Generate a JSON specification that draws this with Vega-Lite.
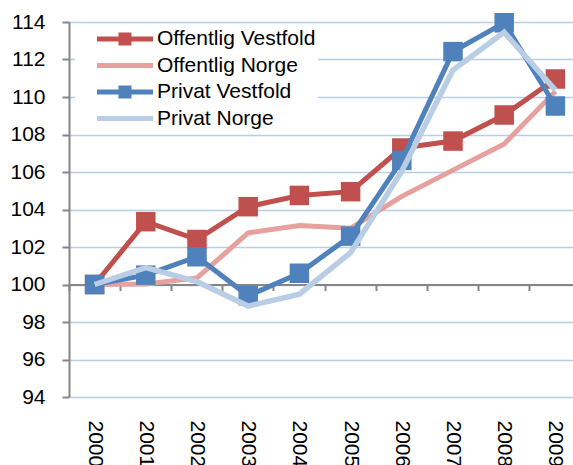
{
  "$schema": "https://vega.github.io/schema/vega-lite/v6.json",
  "width": 504,
  "height": 375,
  "autosize": "none",
  "padding": {"left": 69, "top": 22, "right": 0, "bottom": 68},
  "background": "white",
  "config": {"view": {"stroke": null}, "font": "Liberation Sans"},
  "data": {"values": [
    {"year": "2000", "series": "Offentlig Vestfold", "value": 100},
    {"year": "2001", "series": "Offentlig Vestfold", "value": 103.35},
    {"year": "2002", "series": "Offentlig Vestfold", "value": 102.4},
    {"year": "2003", "series": "Offentlig Vestfold", "value": 104.15},
    {"year": "2004", "series": "Offentlig Vestfold", "value": 104.75},
    {"year": "2005", "series": "Offentlig Vestfold", "value": 104.95},
    {"year": "2006", "series": "Offentlig Vestfold", "value": 107.28},
    {"year": "2007", "series": "Offentlig Vestfold", "value": 107.65},
    {"year": "2008", "series": "Offentlig Vestfold", "value": 109.04},
    {"year": "2009", "series": "Offentlig Vestfold", "value": 110.96},
    {"year": "2000", "series": "Offentlig Norge", "value": 100},
    {"year": "2001", "series": "Offentlig Norge", "value": 100.03},
    {"year": "2002", "series": "Offentlig Norge", "value": 100.35},
    {"year": "2003", "series": "Offentlig Norge", "value": 102.75},
    {"year": "2004", "series": "Offentlig Norge", "value": 103.15},
    {"year": "2005", "series": "Offentlig Norge", "value": 103.0},
    {"year": "2006", "series": "Offentlig Norge", "value": 104.7},
    {"year": "2007", "series": "Offentlig Norge", "value": 106.1},
    {"year": "2008", "series": "Offentlig Norge", "value": 107.5},
    {"year": "2009", "series": "Offentlig Norge", "value": 110.3},
    {"year": "2000", "series": "Privat Vestfold", "value": 100},
    {"year": "2001", "series": "Privat Vestfold", "value": 100.5},
    {"year": "2002", "series": "Privat Vestfold", "value": 101.48},
    {"year": "2003", "series": "Privat Vestfold", "value": 99.4},
    {"year": "2004", "series": "Privat Vestfold", "value": 100.6},
    {"year": "2005", "series": "Privat Vestfold", "value": 102.58},
    {"year": "2006", "series": "Privat Vestfold", "value": 106.62},
    {"year": "2007", "series": "Privat Vestfold", "value": 112.42},
    {"year": "2008", "series": "Privat Vestfold", "value": 113.96},
    {"year": "2009", "series": "Privat Vestfold", "value": 109.52},
    {"year": "2000", "series": "Privat Norge", "value": 100},
    {"year": "2001", "series": "Privat Norge", "value": 100.9},
    {"year": "2002", "series": "Privat Norge", "value": 100.15},
    {"year": "2003", "series": "Privat Norge", "value": 98.85},
    {"year": "2004", "series": "Privat Norge", "value": 99.48},
    {"year": "2005", "series": "Privat Norge", "value": 101.7},
    {"year": "2006", "series": "Privat Norge", "value": 106.05},
    {"year": "2007", "series": "Privat Norge", "value": 111.44},
    {"year": "2008", "series": "Privat Norge", "value": 113.45},
    {"year": "2009", "series": "Privat Norge", "value": 110.37}
  ]},
  "encoding": {
    "y": {
      "field": "value", "type": "quantitative",
      "scale": {"domain": [94, 114], "nice": false, "zero": false},
      "axis": {
        "title": null, "values": [94, 96, 98, 100, 102, 104, 106, 108, 110, 112, 114],
        "labelFontSize": 21, "labelColor": "black", "labelFont": "Liberation Sans", "labelPadding": 17,
        "tickSize": 7, "tickColor": "#868686", "tickWidth": 2,
        "domainColor": "#868686", "domainWidth": 2,
        "gridColor": "#b9cde5", "gridWidth": 1.5
      }
    },
    "color": {
      "field": "series", "type": "nominal",
      "scale": {
        "domain": ["Offentlig Vestfold", "Offentlig Norge", "Privat Vestfold", "Privat Norge"],
        "range": ["#c0504d", "#e6a09e", "#4f81bd", "#b9cde5"]
      },
      "legend": {
        "orient": "none", "legendX": 6, "legendY": 5,
        "title": null, "padding": 2, "fillColor": "white", "strokeColor": null,
        "labelFontSize": 21, "labelFont": "Liberation Sans", "labelColor": "black", "labelLimit": 400,
        "symbolType": "M-0.539,0H0.934", "symbolSize": 5776, "symbolStrokeWidth": 5,
        "labelOffset": -1, "rowPadding": 5.5, "clipHeight": 20,
        "encode": {
          "symbols": {
            "update": {
              "shape": {"signal": "indexof(datum.value, 'Vestfold') >= 0 ? 'M-0.539,0H0.934M0.092,-0.105H0.302V0.105H0.092Z' : 'M-0.539,0H0.934'"},
              "fill": {"scale": "color", "field": "value"},
              "stroke": {"scale": "color", "field": "value"},
              "strokeWidth": {"value": 5},
              "opacity": {"value": 1}
            }
          }
        }
      }
    }
  },
  "layer": [
    {
      "transform": [{"filter": "datum.series === 'Offentlig Vestfold'"}],
      "mark": {"type": "line", "strokeWidth": 5},
      "encoding": {
        "x": {
          "field": "year", "type": "ordinal", "bandPosition": 0.5,
          "scale": {"type": "band", "paddingInner": 0, "paddingOuter": 0, "range": [0, 512]},
          "axis": {
            "orient": "bottom", "title": null, "domain": false, "ticks": false, "tickSize": 0, "grid": false,
            "labelAngle": 90, "labelAlign": "left", "labelBaseline": "middle",
            "labelFontSize": 21, "labelFont": "Liberation Sans", "labelColor": "black", "labelPadding": 23
          }
        }
      }
    },
    {
      "transform": [{"filter": "datum.series === 'Offentlig Vestfold'"}],
      "mark": {"type": "point", "shape": "square", "filled": true, "size": 380, "opacity": 1},
      "encoding": {
        "x": {
          "field": "year", "type": "ordinal", "bandPosition": 0.5,
          "scale": {"type": "band", "paddingInner": 0, "paddingOuter": 0, "range": [0, 512]},
          "axis": {
            "orient": "bottom", "offset": -112.5, "title": null, "labels": false, "grid": false,
            "domainColor": "#868686", "domainWidth": 2, "tickColor": "#868686", "tickWidth": 2, "tickSize": 6,
            "bandPosition": 0, "zindex": 0
          }
        }
      }
    },
    {
      "transform": [{"filter": "datum.series === 'Offentlig Norge'"}],
      "mark": {"type": "line", "strokeWidth": 5},
      "encoding": {
        "x": {
          "field": "year", "type": "ordinal", "bandPosition": 0.5,
          "scale": {"type": "band", "paddingInner": 0, "paddingOuter": 0, "range": [0, 512]},
          "axis": null
        }
      }
    },
    {
      "transform": [{"filter": "datum.series === 'Privat Vestfold'"}],
      "mark": {"type": "line", "strokeWidth": 5},
      "encoding": {
        "x": {
          "field": "year", "type": "ordinal", "bandPosition": 0.5,
          "scale": {"type": "band", "paddingInner": 0, "paddingOuter": 0, "range": [0, 512]},
          "axis": null
        }
      }
    },
    {
      "transform": [{"filter": "datum.series === 'Privat Vestfold'"}],
      "mark": {"type": "point", "shape": "square", "filled": true, "size": 380, "opacity": 1},
      "encoding": {
        "x": {
          "field": "year", "type": "ordinal", "bandPosition": 0.5,
          "scale": {"type": "band", "paddingInner": 0, "paddingOuter": 0, "range": [0, 512]},
          "axis": null
        }
      }
    },
    {
      "transform": [{"filter": "datum.series === 'Privat Norge'"}],
      "mark": {"type": "line", "strokeWidth": 5.5},
      "encoding": {
        "x": {
          "field": "year", "type": "ordinal", "bandPosition": 0.5,
          "scale": {"type": "band", "paddingInner": 0, "paddingOuter": 0, "range": [0, 512]},
          "axis": null
        }
      }
    }
  ],
  "resolve": {"axis": {"x": "independent"}}
}
